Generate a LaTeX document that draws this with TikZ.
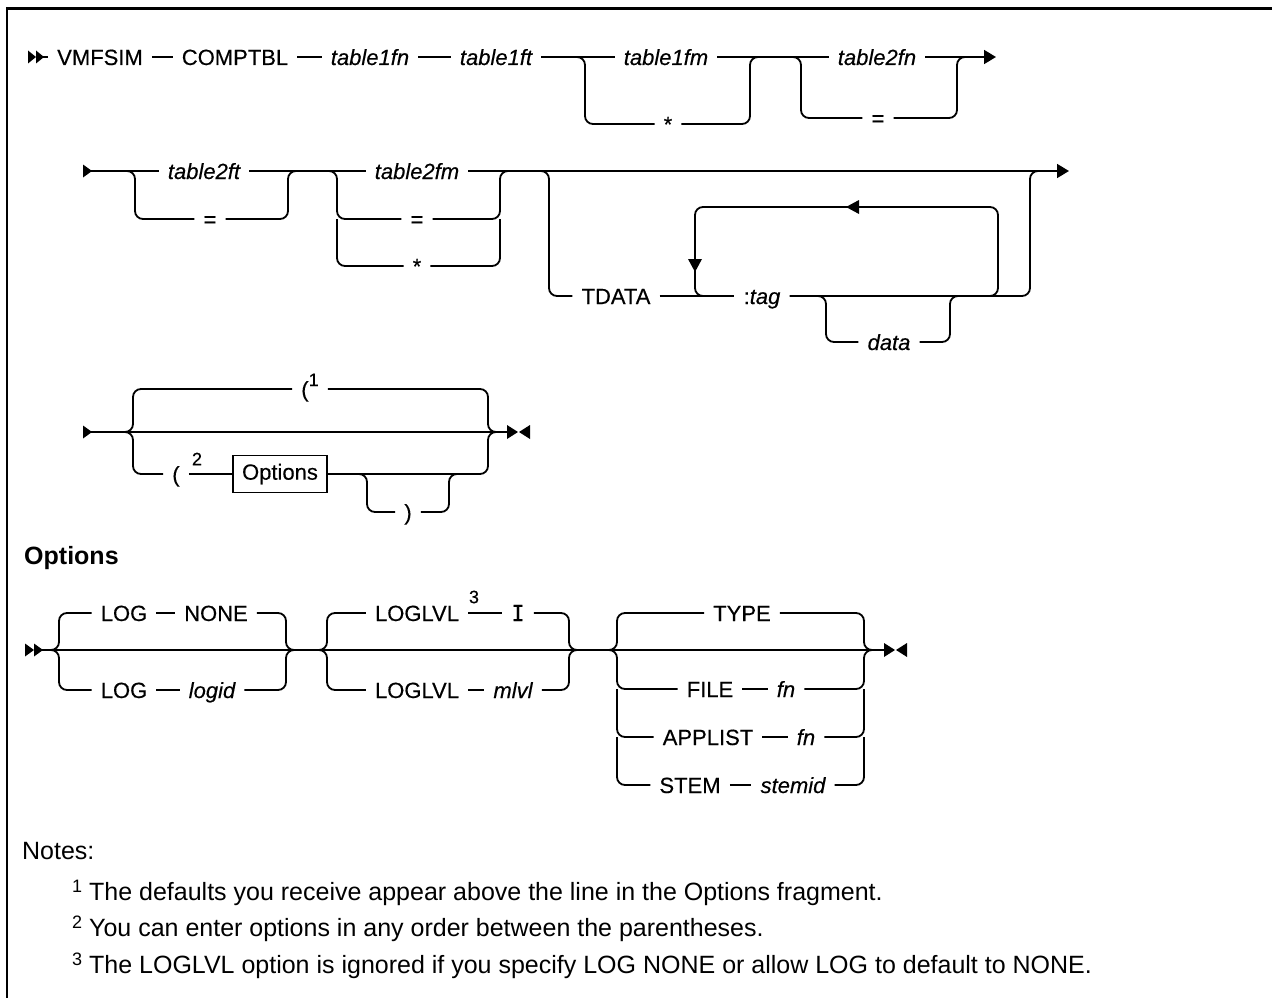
\documentclass[tikz,border=0pt]{standalone}
\usepackage{fontspec}
\setmainfont{Liberation Sans}
\newfontfamily\diafont[FakeBold=0.3]{Liberation Sans}
\newfontfamily\slabfont[FakeBold=0.3]{DejaVu Sans Mono}
\usetikzlibrary{calc,arrows.meta}
\newcommand{\rrsz}{\diafont\fontsize{22}{26}\selectfont}
\newcommand{\supsz}{\fontsize{18}{18}\selectfont}
\newcommand{\notesz}{\fontsize{25}{29}\selectfont}
\begin{document}
\begin{tikzpicture}[x=1pt,y=-1pt,
  rr/.style={line width=1.8pt, rounded corners=8pt},
  lbl/.style={inner xsep=9pt, inner ysep=0pt, text height=16pt, text depth=0pt, font=\rrsz},
  ilbl/.style={lbl, font=\rrsz\itshape},
  suplbl/.style={inner sep=0pt, font=\diafont\supsz},
  endtip/.style={-{Triangle[length=12pt,width=14pt]}},
  txt/.style={anchor=west, inner sep=0pt, font=\notesz}
]
\useasboundingbox (0,0) rectangle (1272,998);
\fill[white] (0,0) rectangle (1272,998);
% frame
\draw[line width=2.5pt, line join=miter] (7,998) -- (7,8.5) -- (1272,8.5);

% ---------------- Row 1 ----------------
\fill (28,50.5) -- (36,57) -- (28,63.5) -- cycle;
\fill (36,50.5) -- (44,57) -- (36,63.5) -- cycle;
\coordinate (s1) at (43,57);
\node[lbl] (vmfsim) at (100,57) {VMFSIM};
\node[lbl] (comptbl) at (235,57) {COMPTBL};
\node[ilbl] (t1fn) at (370,57) {table1fn};
\node[ilbl] (t1ft) at (496,57) {table1ft};
\node[ilbl] (t1fm) at (666,57) {table1fm};
\node[lbl] (star1) at (668,124) {*};
\node[ilbl] (t2fn) at (877,57) {table2fn};
\node[lbl] (eq1) at (878,118) {=};
\coordinate (f1) at (585,57); \coordinate (j1) at (750,57);
\coordinate (f2) at (801,57); \coordinate (j2) at (957,57);
\coordinate (e1) at (996,57);
\draw[rr] (s1) -- (vmfsim);
\draw[rr] (vmfsim) -- (comptbl);
\draw[rr] (comptbl) -- (t1fn);
\draw[rr] (t1fn) -- (t1ft);
\draw[rr] (t1ft) -- (t1fm);
\draw[rr] (t1fm) -- (t2fn);
\draw[rr,endtip] (t2fn) -- (e1);
\draw[rr] ($(f1)+(-12,0)$) -- (f1) -- (f1 |- star1) -- (star1);
\draw[rr] (star1) -- (j1 |- star1) -- (j1) -- ($(j1)+(12,0)$);
\draw[rr] ($(f2)+(-12,0)$) -- (f2) -- (f2 |- eq1) -- (eq1);
\draw[rr] (eq1) -- (j2 |- eq1) -- (j2) -- ($(j2)+(12,0)$);

% ---------------- Row 2 ----------------
\fill (83,164.5) -- (92,171) -- (83,177.5) -- cycle;
\coordinate (s2) at (91,171);
\node[ilbl] (t2ft) at (204,171) {table2ft};
\node[lbl] (eq2) at (210,219) {=};
\node[ilbl] (t2fm) at (417,171) {table2fm};
\node[lbl] (eq3) at (417,219) {=};
\node[lbl] (star3) at (417,266) {*};
\node[lbl] (tdata) at (616,296) {TDATA};
\node[lbl] (tag) at (762,296) {:\textit{tag}};
\node[ilbl] (data) at (889,342) {data};
\coordinate (f3) at (135,171); \coordinate (j3) at (288,171);
\coordinate (f4) at (337,171); \coordinate (j4) at (500,171);
\coordinate (f5) at (549,171); \coordinate (j5) at (1030,171);
\coordinate (e2) at (1069,171);
\coordinate (lpl) at (695,207); \coordinate (lpr) at (998,296);
\coordinate (df) at (826,296); \coordinate (dj) at (950,296);
\draw[rr] (s2) -- (t2ft);
\draw[rr] (t2ft) -- (t2fm);
\draw[rr,endtip] (t2fm) -- (e2);
\draw[rr] ($(f3)+(-12,0)$) -- (f3) -- (f3 |- eq2) -- (eq2);
\draw[rr] (eq2) -- (j3 |- eq2) -- (j3) -- ($(j3)+(12,0)$);
\draw[rr] ($(f4)+(-12,0)$) -- (f4) -- (f4 |- eq3) -- (eq3);
\draw[rr] (eq3) -- (j4 |- eq3) -- (j4) -- ($(j4)+(12,0)$);
\draw[rr] (f4 |- eq3) -- (f4 |- star3) -- (star3);
\draw[rr] (star3) -- (j4 |- star3) -- (j4 |- eq3);
\draw[rr] ($(f5)+(-12,0)$) -- (f5) -- (f5 |- tdata) -- (tdata);
\draw[rr] (tdata) -- (tag);
\draw[rr] (tag) -- (j5 |- tag) -- (j5) -- ($(j5)+(12,0)$);
\draw[rr] ($(lpr)+(-12,0)$) -- (lpr) -- (lpr |- lpl) -- (lpl) -- (lpl |- tag) -- ($(lpl |- tag)+(12,0)$);
\fill (846,207) -- (859,200) -- (859,214) -- cycle;
\fill (695,272) -- (688,259) -- (702,259) -- cycle;
\draw[rr] ($(df)+(-12,0)$) -- (df) -- (df |- data) -- (data);
\draw[rr] (data) -- (dj |- data) -- (dj) -- ($(dj)+(12,0)$);

% ---------------- Row 3 ----------------
\fill (83,425.5) -- (92,432) -- (83,438.5) -- cycle;
\coordinate (s3) at (91,432);
\coordinate (e3) at (509,432);
\draw[rr] (s3) -- (e3);
\fill (507,425) -- (518,432) -- (507,439) -- cycle;
\fill (530,425) -- (519,432) -- (530,439) -- cycle;
\coordinate (f6) at (133,432); \coordinate (j6) at (488,432);
\coordinate (f7) at (367,474); \coordinate (j7) at (449,474);
\node[lbl] (par1) at (310,389) {(\raisebox{11pt}{\supsz 1}};
\node[lbl] (par2) at (176,474) {(};
\node[suplbl] (sup2) at (197,459) {2};
\node[draw, line width=1.4pt, inner sep=0pt, minimum width=94pt, minimum height=37pt, font=\rrsz] (optbox) at (280,474) {Options};
\node[lbl] (rpar) at (408,512) {)};
\draw[rr] ($(f6)+(-12,0)$) -- (f6) -- (f6 |- par1) -- (par1);
\draw[rr] (par1) -- (j6 |- par1) -- (j6) -- ($(j6)+(12,0)$);
\draw[rr] ($(f6)+(-12,0)$) -- (f6) -- (f6 |- par2) -- (par2);
\draw[rr] (par2) -- (optbox);
\draw[rr] (optbox) -- (j6 |- optbox) -- (j6) -- ($(j6)+(12,0)$);
\draw[rr] ($(f7)+(-12,0)$) -- (f7) -- (f7 |- rpar) -- (rpar);
\draw[rr] (rpar) -- (j7 |- rpar) -- (j7) -- ($(j7)+(12,0)$);

% ---------------- Options fragment ----------------
\node[txt, font=\notesz\bfseries] (opth) at (24,558) {Options};
\fill (25,643.5) -- (34,650) -- (25,656.5) -- cycle;
\fill (34,643.5) -- (43,650) -- (34,656.5) -- cycle;
\coordinate (s4) at (42,650);
\coordinate (e4) at (886,650);
\draw[rr] (s4) -- (e4);
\fill (884,643) -- (895,650) -- (884,657) -- cycle;
\fill (907,643) -- (896,650) -- (907,657) -- cycle;
% group A
\coordinate (fa) at (59,650); \coordinate (ja) at (286,650);
\node[lbl] (logA) at (124,613) {LOG};
\node[lbl] (none) at (216,613) {NONE};
\node[lbl] (logB) at (124,690) {LOG};
\node[ilbl] (logid) at (212,690) {logid};
\draw[rr] ($(fa)+(-12,0)$) -- (fa) -- (fa |- logA) -- (logA);
\draw[rr] (logA) -- (none);
\draw[rr] (none) -- (ja |- none) -- (ja) -- ($(ja)+(12,0)$);
\draw[rr] ($(fa)+(-12,0)$) -- (fa) -- (fa |- logB) -- (logB);
\draw[rr] (logB) -- (logid);
\draw[rr] (logid) -- (ja |- logid) -- (ja) -- ($(ja)+(12,0)$);
% group B
\coordinate (fb) at (327,650); \coordinate (jb) at (569,650);
\node[lbl] (lvlA) at (417,613) {LOGLVL};
\node[suplbl] (sup3) at (474,597) {3};
\node[lbl] (lvlI) at (518,613) {{\slabfont I}};
\node[lbl] (lvlB) at (417,690) {LOGLVL};
\node[ilbl] (mlvl) at (513,690) {mlvl};
\draw[rr] ($(fb)+(-12,0)$) -- (fb) -- (fb |- lvlA) -- (lvlA);
\draw[rr] (lvlA) -- (lvlI);
\draw[rr] (lvlI) -- (jb |- lvlI) -- (jb) -- ($(jb)+(12,0)$);
\draw[rr] ($(fb)+(-12,0)$) -- (fb) -- (fb |- lvlB) -- (lvlB);
\draw[rr] (lvlB) -- (mlvl);
\draw[rr] (mlvl) -- (jb |- mlvl) -- (jb) -- ($(jb)+(12,0)$);
% group C
\coordinate (fc) at (617,650); \coordinate (jc) at (864,650);
\node[lbl] (type) at (742,613) {TYPE};
\node[lbl] (file) at (710,689) {FILE};
\node[ilbl] (fnA) at (786,689) {fn};
\node[lbl] (appl) at (708,737) {APPLIST};
\node[ilbl] (fnB) at (806,737) {fn};
\node[lbl] (stem) at (690,785) {STEM};
\node[ilbl] (stemid) at (793,785) {stemid};
\draw[rr] ($(fc)+(-12,0)$) -- (fc) -- (fc |- type) -- (type);
\draw[rr] (type) -- (jc |- type) -- (jc) -- ($(jc)+(12,0)$);
\draw[rr] ($(fc)+(-12,0)$) -- (fc) -- (fc |- file) -- (file);
\draw[rr] (file) -- (fnA);
\draw[rr] (fnA) -- (jc |- fnA) -- (jc) -- ($(jc)+(12,0)$);
\draw[rr] (fc |- file) -- (fc |- appl) -- (appl);
\draw[rr] (appl) -- (fnB);
\draw[rr] (fnB) -- (jc |- fnB) -- (jc |- fnA);
\draw[rr] (fc |- appl) -- (fc |- stem) -- (stem);
\draw[rr] (stem) -- (stemid);
\draw[rr] (stemid) -- (jc |- stemid) -- (jc |- fnB);

% ---------------- Notes ----------------
\node[txt] (notes) at (22,851) {Notes:};
\node[txt] (fn1) at (72,893) {\raisebox{8pt}{\supsz 1} The defaults you receive appear above the line in the Options fragment.};
\node[txt] (fn2) at (72,929) {\raisebox{8pt}{\supsz 2} You can enter options in any order between the parentheses.};
\node[txt] (fn3) at (72,966) {\raisebox{8pt}{\supsz 3} The LOGLVL option is ignored if you specify LOG NONE or allow LOG to default to NONE.};
\end{tikzpicture}
\end{document}
